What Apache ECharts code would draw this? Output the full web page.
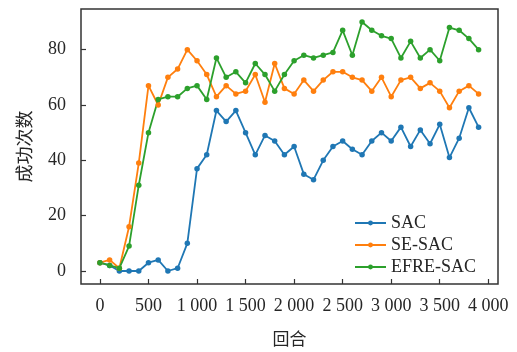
<!DOCTYPE html>
<html style="height: 100%">
<head>
<meta charset="utf-8">
<style type="text/css">
    body, html {width: 100%; height: 100%; margin: 0; overflow: hidden; background: #fff;}
    #chart {width: 517px; height: 352px;}
</style>
</head>
<body>
<div id="chart"></div>
<script type="text/javascript" src="https://cdn.jsdelivr.net/npm/echarts@6/dist/echarts.min.js"></script>
<script type="text/javascript">
// 回合 (every 100 episodes)
var episodes = [];
for (var e = 0; e <= 3900; e += 100) episodes.push(e);

var sac = [3, 2, 0, 0, 0, 3, 4, 0, 1, 10, 37, 42, 58, 54, 58, 50, 42, 49, 47, 42,
           45, 35, 33, 40, 45, 47, 44, 42, 47, 50, 47, 52, 45, 51, 46, 53, 41, 48, 59, 52];
var seSac = [3, 4, 1, 16, 39, 67, 60, 70, 73, 80, 76, 71, 63, 67, 64, 65, 71, 61, 75, 66,
             64, 69, 65, 69, 72, 72, 70, 69, 65, 70, 63, 69, 70, 66, 68, 65, 59, 65, 67, 64];
var efreSac = [3, 2, 1, 9, 31, 50, 62, 63, 63, 66, 67, 62, 77, 70, 72, 68, 75, 71, 65, 71,
               76, 78, 77, 78, 79, 87, 78, 90, 87, 85, 84, 77, 83, 77, 80, 76, 88, 87, 84, 80];

var xTicks = [0, 500, 1000, 1500, 2000, 2500, 3000, 3500, 4000];
var yTicks = [0, 20, 40, 60, 80];
var seriesNames = ['SAC', 'SE-SAC', 'EFRE-SAC'];
var colors = ['#1f77b4', '#ff7f0e', '#2ca02c'];

function pairs(ys) {
    var out = [];
    for (var i = 0; i < ys.length; i++) out.push([episodes[i], ys[i]]);
    return out;
}

var textColor = '#262626';
var serif = '"Liberation Serif", "DejaVu Serif", serif';

var chart = echarts.init(document.getElementById('chart'));
var allData = [sac, seSac, efreSac];
var series = [];
for (var k = 0; k < allData.length; k++) {
    series.push({
        name: seriesNames[k],
        type: 'line',
        data: pairs(allData[k]),
        symbol: 'circle',
        symbolSize: 5.5,
        showSymbol: true,
        lineStyle: {width: 1.8, color: colors[k]},
        itemStyle: {color: colors[k]},
        animation: false
    });
}

var option = {
    backgroundColor: '#fff',
    color: colors,
    grid: {
        show: true,
        left: 81,
        right: 19,
        top: 9,
        bottom: 66,
        borderColor: '#333',
        borderWidth: 1.5,
        containLabel: false
    },
    legend: {
        orient: 'vertical',
        left: 349,
        top: 209,
        itemWidth: 31,
        itemHeight: 6,
        itemGap: 4,
        textStyle: {fontFamily: serif, fontSize: 18, color: textColor},
        data: seriesNames
    },
    xAxis: {
        type: 'value',
        min: -195,
        max: 4100,
        name: '回合',
        nameLocation: 'middle',
        nameGap: 46,
        nameTextStyle: {fontFamily: '"Noto Sans CJK SC"', fontSize: 17, color: textColor},
        axisLine: {show: false, onZero: false},
        splitLine: {show: false},
        axisTick: {show: true, inside: true, length: 5, customValues: xTicks,
                   lineStyle: {color: '#333', width: 1.2}},
        axisLabel: {
            customValues: xTicks,
            margin: 13,
            fontFamily: serif,
            fontSize: 18,
            color: textColor,
            formatter: function (v) {
                return String(v).replace(/\B(?=(\d{3})+(?!\d))/g, ' ');
            }
        }
    },
    yAxis: {
        type: 'value',
        min: -4.7,
        max: 94.7,
        name: '成功次数',
        nameLocation: 'middle',
        nameGap: 48,
        nameTextStyle: {fontFamily: '"Noto Sans CJK SC"', fontSize: 18, color: textColor},
        axisLine: {show: false, onZero: false},
        splitLine: {show: false},
        axisTick: {show: true, inside: true, length: 5, customValues: yTicks,
                   lineStyle: {color: '#333', width: 1.2}},
        axisLabel: {
            customValues: yTicks,
            margin: 15,
            fontFamily: serif,
            fontSize: 18,
            color: textColor
        }
    },
    series: series
};
chart.setOption(option);
</script>
</body>
</html>
